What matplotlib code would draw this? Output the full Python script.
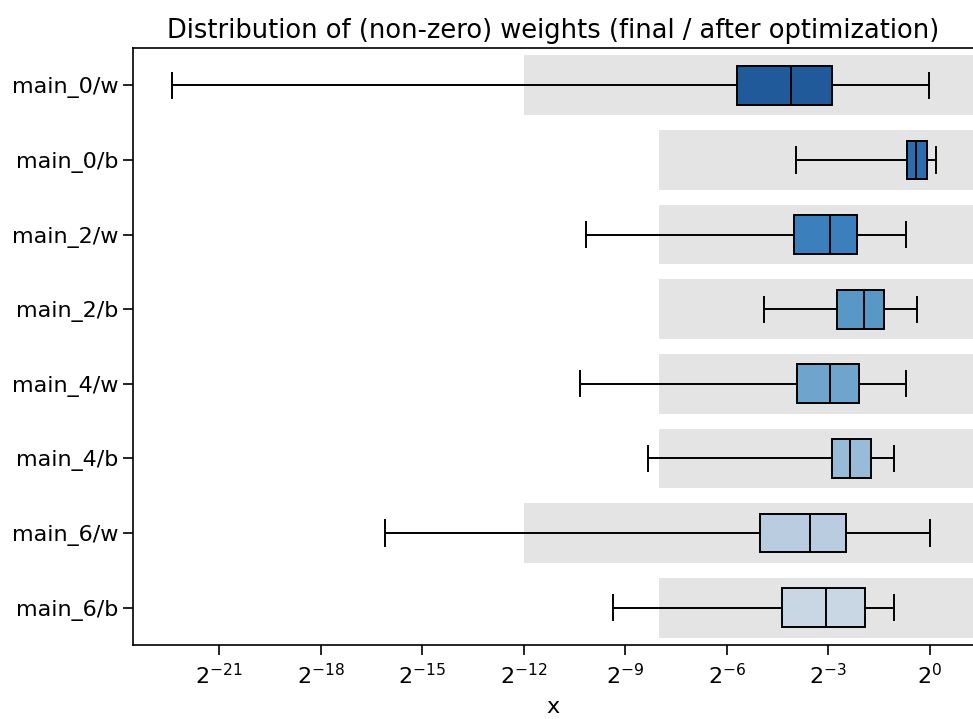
import numpy as np
import matplotlib
matplotlib.use("Agg")
import matplotlib.pyplot as plt

labels = ["main_0/w", "main_0/b", "main_2/w", "main_2/b",
          "main_4/w", "main_4/b", "main_6/w", "main_6/b"]
# values read as log2 exponents
whislo_e = [-22.39, -3.96, -10.16, -4.90, -10.34, -8.33, -16.10, -9.36]
q1_e     = [-5.70, -0.68, -4.02, -2.75, -3.93, -2.89, -5.03, -4.38]
med_e    = [-4.11, -0.41, -2.95, -1.95, -2.95, -2.36, -3.53, -3.07]
q3_e     = [-2.89, -0.09, -2.16, -1.36, -2.10, -1.74, -2.48, -1.92]
whishi_e = [-0.03, 0.18, -0.71, -0.38, -0.71, -1.06, 0.00, -1.05]
range_lo_e = [-12, -8, -8, -8, -8, -8, -12, -8]
range_hi_e = [4, 4, 4, 4, 4, 4, 4, 4]
xtick_e = [-21, -18, -15, -12, -9, -6, -3, 0]
box_colors = ["#215a9a", "#2c6db0", "#3b80bd", "#5898c6",
              "#6fa5cd", "#98bbd8", "#bacde0", "#c9d7e5"]

fig = plt.figure(figsize=(9.73, 7.19), dpi=100)
ax = fig.add_axes([133/973, 1-645/719, 1-133/973, (645-48)/719])

ypos = np.arange(len(labels))
lo = 2.0 ** np.array(range_lo_e, dtype=float)
hi = 2.0 ** np.array(range_hi_e, dtype=float)
ax.barh(ypos, hi - lo, left=lo, height=0.8, color="lightgray", alpha=0.6,
        linewidth=0, zorder=0)

stats = []
for i in range(len(labels)):
    stats.append(dict(whislo=2.0**whislo_e[i], q1=2.0**q1_e[i], med=2.0**med_e[i],
                      q3=2.0**q3_e[i], whishi=2.0**whishi_e[i], fliers=[]))
bp = ax.bxp(stats, positions=ypos, vert=False, widths=0.52, patch_artist=True,
            showfliers=False, capwidths=0.34,
            boxprops=dict(linewidth=1.4, edgecolor="black"),
            whiskerprops=dict(linewidth=1.4, color="black"),
            capprops=dict(linewidth=1.4, color="black"),
            medianprops=dict(linewidth=1.4, color="black"))
for patch, c in zip(bp["boxes"], box_colors):
    patch.set_facecolor(c)

ax.set_xscale("log", base=2)
ax.set_xlim(2.0 ** -23.54, 2.0 ** 1.27)
ax.set_ylim(len(labels) - 0.5, -0.5)
ax.set_xticks([2.0 ** e for e in xtick_e])
ax.set_xticklabels([f"$2^{{{e}}}$" for e in xtick_e])
ax.xaxis.set_minor_locator(matplotlib.ticker.NullLocator())
ax.set_yticks(ypos)
ax.set_yticklabels(labels)
ax.tick_params(labelsize=16, length=7, width=1.2)
ax.tick_params(axis="x", pad=6)
ax.set_xlabel("x", fontsize=16, labelpad=6)
ax.set_title("Distribution of (non-zero) weights (final / after optimization)",
             fontsize=18.5, pad=7)
ax.spines["right"].set_visible(False)
for s in ["left", "bottom", "top"]:
    ax.spines[s].set_linewidth(1.2)

fig.savefig("out.png", dpi=100)
